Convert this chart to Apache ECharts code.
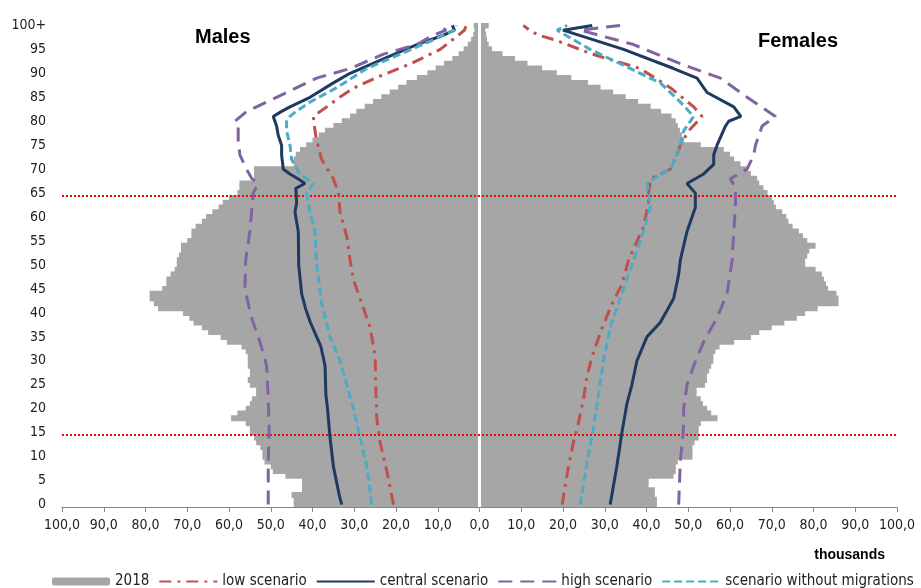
<!DOCTYPE html>
<html>
<head>
<meta charset="utf-8">
<script src="https://cdn.jsdelivr.net/npm/echarts@6/dist/echarts.min.js"></script>
<style>html,body{margin:0;padding:0;background:#fff}#c{width:921px;height:588px}</style>
</head>
<body>
<div id="c"></div>
<script>
// ---- categories / tick labels ----
const ageLabels = ['0','1','2','3','4','5','6','7','8','9','10','11','12','13','14','15','16','17','18','19',
'20','21','22','23','24','25','26','27','28','29','30','31','32','33','34','35','36','37','38','39',
'40','41','42','43','44','45','46','47','48','49','50','51','52','53','54','55','56','57','58','59',
'60','61','62','63','64','65','66','67','68','69','70','71','72','73','74','75','76','77','78','79',
'80','81','82','83','84','85','86','87','88','89','90','91','92','93','94','95','96','97','98','99','100+'];

// ---- 2018 population, thousands (ages 0..100+) ----
const males2018 = [
44.5,44.5,45,42.5,42.5,42.5,46.5,49.5,50,51.5,
52,52,52.5,53.5,54,55,55,56,59.5,58,
56,55,54.5,53.5,53.5,55,55.5,55,55,55.5,
55.5,55.5,56,57,60.5,62,65,66.5,68.5,69.5,
71,77,78,79,79,76,75,75,74,73,
72.5,72.5,72,71.5,71.5,70,69,69,68,66.5,
65.5,64,62.5,61.5,60,58,57.5,57.5,54,54,
54,44.5,44.5,44,43,41.5,40,38.5,37,35,
33,31,29.5,27.5,25.5,23.5,21.5,19.5,17.5,15,
12.5,10.5,8.5,6.5,5,3.8,2.8,2,1.5,1.2,
1.4];
const females2018 = [
42.5,42.5,42,42,40.5,40.5,46.5,47,47,47.5,
51,51,51,51.5,52.5,52.5,52.5,53,57,55.5,
54.5,53.5,53,52,52,54,54.5,54.5,55,55.5,
56,56,56.5,57.5,61,65,67,70,73,76,
78,81,86,86,85.5,83.5,83,82.5,82,80.5,
78,78,78.5,79,80.5,78.5,77.5,76.5,75,74,
73.5,72.5,71,70.5,70,69,68,67,66.5,65,
64,62.5,61,60,58.5,53,49,48.5,48,47.5,
47,46,43.5,41,38,35,32,29,26,22,
18.5,15,11.5,8.5,5.5,3,2.2,1.8,1.6,1.4,
2.2];

// ---- projection scenarios, [age, thousands] ----
const lowMale = [[0,20.6],[7,22.2],[13,23.8],[18,24.6],[23,24.8],[31,25],[37,26.2],[42,28.2],[47,30.2],[51,31],[56,31.8],[61,33.4],[65,33.8],[68,35],[72,37.8],[76,39],[78,39.4],[81,39.8],[83,36.6],[85,33.5],[87,30],[89,25],[92,16.5],[95,9.4],[98,5],[99,3.6],[100,3.2]];
const centralMale = [[0,33],[2,33.6],[5,34.3],[8,35],[14,35.8],[20,36.4],[23,36.8],[29,37],[33,38],[36,39.5],[38,40.5],[41,41.7],[44,42.6],[50,43.3],[57,43.4],[61,44.2],[63,43.8],[66,44],[67,41.8],[68,43.5],[69,45.4],[70,47],[73,47.4],[75,47.4],[77,48.2],[79,48.6],[81,49.4],[82,47.5],[83,45.4],[85,40.6],[88,35],[90,31],[93,23],[96,15],[98,8.5],[99,6],[100,6.5]];
const highMale = [[0,50.6],[8,50.6],[16,50.4],[22,50.6],[29,51],[34,52.6],[39,54.6],[45,56.2],[51,56],[57,55],[61,54.6],[65,54.2],[67,53],[68,54.5],[70,55.8],[73,57.4],[76,57.8],[79,57.8],[80,58.6],[82,55.8],[85,48.6],[89,39],[91,31],[94,23],[96,15],[98,11],[99,8],[100,9.8]];
const noMigMale = [[0,25.8],[8,27],[14,28.6],[20,30.2],[25,31.8],[30,33.4],[35,35.8],[42,37.8],[50,39],[57,39.4],[61,40.6],[65,41.4],[67,39.8],[69,43],[72,45],[75,45.4],[78,46.2],[80,46.2],[81,45.4],[82,44],[84,40.6],[87,34.2],[91,27],[94,19],[97,11],[99,6],[100,5.5]];

const lowFemale = [[0,19.8],[8,21.3],[13,22.5],[17,23.7],[22,24.9],[27,25.8],[31,27],[36,29],[41,31.3],[46,34.1],[51,35.7],[58,39.3],[63,40.5],[65,40.5],[68,41],[70,45.7],[73,47.3],[75,48.1],[78,50.1],[81,53.3],[83,51.3],[87,45.7],[91,38.5],[94,27],[97,18],[98,14],[99,12],[100,10.5]];
const centralFemale = [[0,31.3],[8,32.9],[15,34.1],[21,35.3],[25,36.5],[30,37.7],[35,40.1],[38,43.3],[43,46.5],[48,47.7],[51,48.1],[57,49.7],[62,51.7],[65,51.7],[67,49.7],[69,53.7],[71,56.1],[73,56.1],[75,56.9],[79,58.9],[80,59.7],[81,62.6],[83,60.9],[86,54.5],[89,52.1],[91,46.5],[95,34.5],[99,20],[100,27]];
const highFemale = [[0,47.7],[9,48.1],[15,48.8],[20,48.9],[25,49.7],[29,51.3],[34,53.7],[39,56.9],[44,59.3],[51,60.5],[57,60.9],[62,61.3],[66,61.3],[68,60.1],[70,64.1],[73,65.7],[75,66.1],[79,67.7],[81,70.9],[85,64.1],[89,57.7],[92,48.1],[96,36.9],[99,24.1],[100,33.7]];
const noMigFemale = [[0,24.1],[9,25.8],[16,27.3],[23,28.5],[30,29.7],[37,31.3],[43,33.7],[49,36.1],[51,36.9],[57,39.3],[62,40.9],[65,40.5],[67,40.1],[68,41.7],[70,45.7],[73,47.3],[75,48.1],[78,48.9],[81,51.3],[84,48.1],[88,43.3],[90,38.5],[95,26.5],[99,18.6],[100,21]];

const legendNames = ['2018','low scenario','central scenario','high scenario','scenario without migrations'];

// ---- build chart ----
const FONT = "'DejaVu Sans Condensed','Liberation Sans Narrow','Liberation Sans',sans-serif";
const chart = echarts.init(document.getElementById('c'), null, {renderer:'canvas'});

const styles = {
  'low scenario': {color:'#C0504D', type:[12,6,3,6]},
  'central scenario': {color:'#1F3A60', type:'solid'},
  'high scenario': {color:'#8064A2', type:[14,8]},
  'scenario without migrations': {color:'#4BACC6', type:[8,4]}
};
function lineSeries(name, pts, sign, extra){
  const st = styles[name];
  return Object.assign({
    name, type:'line', xAxisIndex:0, yAxisIndex:1,
    data: pts.map(p => [sign*p[1], p[0]]),
    symbol:'none', smooth:false, z:5,
    itemStyle:{color:st.color},
    lineStyle:{color:st.color, width:3, type:st.type}
  }, extra||{});
}

const option = {
  animation:false,
  backgroundColor:'#fff',
  title:[
    {text:'Males', left:190, top:22, textStyle:{fontFamily:"'Liberation Sans',sans-serif", fontWeight:'bold', fontSize:20, color:'#000'}},
    {text:'Females', left:753, top:26, textStyle:{fontFamily:"'Liberation Sans',sans-serif", fontWeight:'bold', fontSize:20, color:'#000'}},
    {text:'thousands', right:31, top:543, textStyle:{fontFamily:"'Liberation Sans',sans-serif", fontWeight:'bold', fontSize:14, color:'#000'}}
  ],
  legend:{
    data: legendNames.map((n, i) => i === 0 ? {name:n} : {name:n, itemStyle:{opacity:0}}),
    left:47, top:569, itemWidth:58, itemHeight:8, itemGap:9,
    textStyle:{fontFamily:FONT, fontSize:15, color:'#222'}
  },
  grid:{left:62, right:24, top:23, bottom:81},
  xAxis:{
    type:'value', min:-100, max:100, interval:10,
    axisLine:{show:true, onZero:false, lineStyle:{color:'#868686', width:1}},
    axisTick:{show:true, length:5, lineStyle:{color:'#868686'}},
    splitLine:{show:false},
    axisLabel:{fontFamily:FONT, fontSize:14, color:'#222', margin:11,
      formatter:v => Math.abs(v).toFixed(1).replace('.', ',')}
  },
  yAxis:[
    {type:'category', data:ageLabels, position:'left',
      axisLine:{show:false, onZero:false}, axisTick:{show:false}, splitLine:{show:false},
      axisLabel:{interval:4, margin:16, fontFamily:FONT, fontSize:14, color:'#222'}},
    {type:'value', min:-0.5, max:100.5, show:false}
  ],
  series:[
    {name:'2018', type:'bar', stack:'pop', yAxisIndex:0, barWidth:6,
      data:males2018.map(v => -v), itemStyle:{color:'#A6A6A6'}, z:1,
      markLine:{silent:true, symbol:['none','none'], label:{show:false},
        lineStyle:{color:'#ffffff', width:3, type:'solid'}, data:[{xAxis:0}]}},
    {name:'2018', type:'bar', stack:'pop', yAxisIndex:0, barWidth:6,
      data:females2018, itemStyle:{color:'#A6A6A6'}, z:1},
    lineSeries('low scenario', lowMale, -1, {
      markLine:{silent:true, symbol:['none','none'], label:{show:false},
        lineStyle:{color:'#FF0000', width:2, type:[2,2]}, data:[{yAxis:64.5},{yAxis:14.5}]}}),
    lineSeries('low scenario', lowFemale, 1),
    lineSeries('central scenario', centralMale, -1),
    lineSeries('central scenario', centralFemale, 1),
    lineSeries('high scenario', highMale, -1),
    lineSeries('high scenario', highFemale, 1),
    lineSeries('scenario without migrations', noMigMale, -1),
    lineSeries('scenario without migrations', noMigFemale, 1)
  ]
};
chart.setOption(option);
</script>
</body>
</html>
